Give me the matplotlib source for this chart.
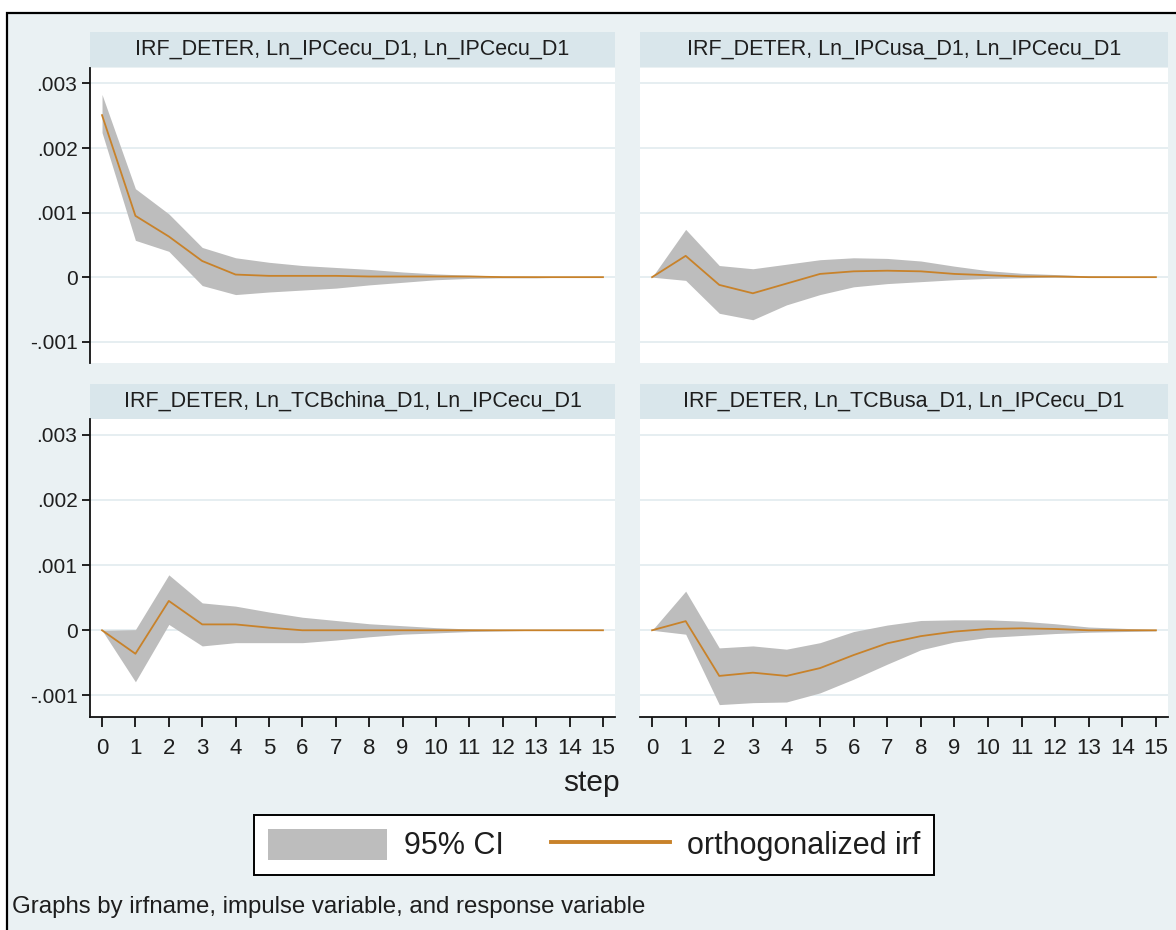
import matplotlib
matplotlib.use("Agg")
import matplotlib.pyplot as plt
from matplotlib import font_manager
from matplotlib.patches import Rectangle, Patch
from matplotlib.lines import Line2D

# ---------------- data ----------------
steps = list(range(16))

panel_titles = [
    "IRF_DETER, Ln_IPCecu_D1, Ln_IPCecu_D1",
    "IRF_DETER, Ln_IPCusa_D1, Ln_IPCecu_D1",
    "IRF_DETER, Ln_TCBchina_D1, Ln_IPCecu_D1",
    "IRF_DETER, Ln_TCBusa_D1, Ln_IPCecu_D1",
]

irf_ecu = [0.00251, 0.00095, 0.00063, 0.00025, 0.00004, 0.00002, 0.00002, 0.00002,
           0.00001, 0.00001, 0.00001, 0.00001, 0.0, 0.0, 0.0, 0.0]
up_ecu = [0.00283, 0.00137, 0.00098, 0.00046, 0.00030, 0.00023, 0.00018, 0.00015,
          0.00012, 0.00008, 0.00005, 0.00003, 0.00002, 0.00001, 0.0, 0.0]
lo_ecu = [0.00224, 0.00057, 0.00040, -0.00013, -0.00027, -0.00023, -0.00020, -0.00017,
          -0.00012, -0.00008, -0.00004, -0.00002, -0.00001, -0.00001, 0.0, 0.0]

irf_usa = [0.0, 0.00033, -0.00012, -0.00025, -0.00010, 0.00005, 0.00009, 0.00010,
           0.00009, 0.00005, 0.00003, 0.00001, 0.00001, 0.0, 0.0, 0.0]
up_usa = [0.0, 0.00074, 0.00018, 0.00013, 0.00020, 0.00027, 0.00030, 0.00029,
          0.00025, 0.00017, 0.00010, 0.00006, 0.00004, 0.00002, 0.00001, 0.0]
lo_usa = [0.0, -0.00005, -0.00056, -0.00066, -0.00043, -0.00027, -0.00015, -0.00010,
          -0.00007, -0.00004, -0.00002, -0.00001, 0.0, 0.0, 0.0, 0.0]

irf_china = [0.0, -0.00036, 0.00045, 0.00009, 0.00009, 0.00004, 0.0, 0.0,
             0.0, 0.0, 0.0, 0.0, 0.0, 0.0, 0.0, 0.0]
up_china = [0.0, 0.00001, 0.00085, 0.00042, 0.00037, 0.00028, 0.00020, 0.00015,
            0.00010, 0.00007, 0.00004, 0.00002, 0.00001, 0.0, 0.0, 0.0]
lo_china = [0.0, -0.00079, 0.00009, -0.00024, -0.00019, -0.00019, -0.00019, -0.00015,
            -0.00010, -0.00006, -0.00004, -0.00002, -0.00001, 0.0, 0.0, 0.0]

irf_tcbusa = [0.0, 0.00014, -0.00070, -0.00065, -0.00070, -0.00058, -0.00038, -0.00020,
              -0.00009, -0.00002, 0.00002, 0.00003, 0.00002, 0.0, 0.0, 0.0]
up_tcbusa = [0.0, 0.00060, -0.00027, -0.00024, -0.00029, -0.00019, -0.00002, 0.00008,
             0.00015, 0.00016, 0.00016, 0.00014, 0.00010, 0.00005, 0.00003, 0.00001]
lo_tcbusa = [0.0, -0.00006, -0.00114, -0.00111, -0.00110, -0.00096, -0.00075, -0.00052,
             -0.00030, -0.00018, -0.00011, -0.00008, -0.00005, -0.00003, -0.00002, -0.00001]

ytick_values = [-0.001, 0.0, 0.001, 0.002, 0.003]
ytick_labels = ["-.001", "0", ".001", ".002", ".003"]
xtick_labels = [str(s) for s in steps]

legend_labels = ["95% CI", "orthogonalized irf"]
xlabel_text = "step"
note_text = "Graphs by irfname, impulse variable, and response variable"

# ---------------- style ----------------
names = {f.name for f in font_manager.fontManager.ttflist}
NARROW_OK = "Liberation Sans Narrow" in names
NARROW = "Liberation Sans Narrow" if NARROW_OK else "Liberation Sans"
REG = "Liberation Sans"
plt.rcParams["font.family"] = [REG, "DejaVu Sans"]

TITLE_FS = 18.5 if NARROW_OK else 15.5

BG = "#eaf1f3"
STRIP = "#d9e6eb"
GRID = "#e4edf0"
CI_COL = "#bdbdbd"
LINE_COL = "#c8822a"
TXT = "#1e1e1e"

W, H = 1176, 930
fig = plt.figure(figsize=(W / 100, H / 100), dpi=100, facecolor="white")

# outer graph region with black border on top and left
fig.patches.append(Rectangle((7 / W, -0.1), 1.2, (H - 13) / H + 0.1,
                             transform=fig.transFigure, facecolor=BG,
                             edgecolor="black", lw=1.6, zorder=-10))


def px_axes(x0, y0, x1, y1):
    return fig.add_axes([x0 / W, 1 - y1 / H, (x1 - x0) / W, (y1 - y0) / H])


def strip(x0, y0, x1, y1, text):
    fig.patches.append(Rectangle((x0 / W, 1 - y1 / H), (x1 - x0) / W, (y1 - y0) / H,
                                 transform=fig.transFigure, facecolor=STRIP,
                                 edgecolor="none", zorder=-5))
    fig.text((x0 + x1) / 2 / W, 1 - (y0 + y1) / 2 / H, text, ha="center", va="center",
             fontsize=TITLE_FS, family=[NARROW, "DejaVu Sans"], color=TXT)


panels = [
    ((90, 68, 615, 363), (90, 32, 615, 67), irf_ecu, up_ecu, lo_ecu, True, False),
    ((640, 68, 1168, 363), (640, 32, 1168, 67), irf_usa, up_usa, lo_usa, False, False),
    ((90, 419, 615, 717), (90, 384, 615, 419), irf_china, up_china, lo_china, True, True),
    ((640, 419, 1168, 717), (640, 384, 1168, 419), irf_tcbusa, up_tcbusa, lo_tcbusa, False, True),
]

for (box, sbox, irf, up, lo, show_y, show_x), title in zip(panels, panel_titles):
    ax = px_axes(*box)
    strip(*sbox, title)
    ax.set_facecolor("white")
    ax.fill_between(steps, lo, up, color=CI_COL, lw=0, zorder=2)
    ax.plot(steps, irf, color=LINE_COL, lw=1.3, zorder=3)
    ax.set_xlim(-0.36, 15.36)
    ax.set_ylim(-0.00133, 0.00324)
    ax.set_yticks(ytick_values)
    ax.grid(axis="y", color=GRID, lw=1.3, zorder=0)
    ax.grid(axis="x", visible=False)
    for s in ["top", "right"]:
        ax.spines[s].set_visible(False)
    ax.spines["left"].set_visible(show_y)
    ax.spines["bottom"].set_visible(show_x)
    for s in ["left", "bottom"]:
        ax.spines[s].set_linewidth(1.3)
        ax.spines[s].set_color("#111111")
    if show_y:
        ax.set_yticklabels(ytick_labels, family=[NARROW, "DejaVu Sans"], fontsize=15, color=TXT)
        ax.tick_params(axis="y", length=6, width=1.3, pad=3, color="#111111")
    else:
        ax.tick_params(axis="y", left=False, labelleft=False)
    ax.set_xticks(steps)
    if show_x:
        ax.set_xticklabels(xtick_labels, family=[NARROW, "DejaVu Sans"], fontsize=16, color=TXT)
        ax.tick_params(axis="x", length=7, width=1.3, pad=8, color="#111111")
    else:
        ax.tick_params(axis="x", bottom=False, labelbottom=False)

# x-axis title
fig.text(591 / W, 1 - 783 / H, xlabel_text, ha="center", va="center", fontsize=21.5, color=TXT)

# legend
handles = [Patch(facecolor=CI_COL, edgecolor="none"),
           Line2D([0], [0], color=LINE_COL, lw=2.8)]
leg = fig.legend(handles, legend_labels, loc="center", bbox_to_anchor=(594 / W, 1 - 845 / H),
                 ncol=2, fontsize=22, frameon=True, fancybox=False, edgecolor="black",
                 facecolor="white", framealpha=1, handlelength=3.9, handleheight=1.2,
                 handletextpad=0.55, columnspacing=1.55, borderpad=0.45)
leg.get_frame().set_linewidth(1.4)
for t in leg.get_texts():
    t.set_color(TXT)

# note
fig.text(12 / W, 1 - 907 / H, note_text, ha="left", va="center", fontsize=17.3, color=TXT)

fig.savefig("out.png", dpi=100, facecolor="white")
